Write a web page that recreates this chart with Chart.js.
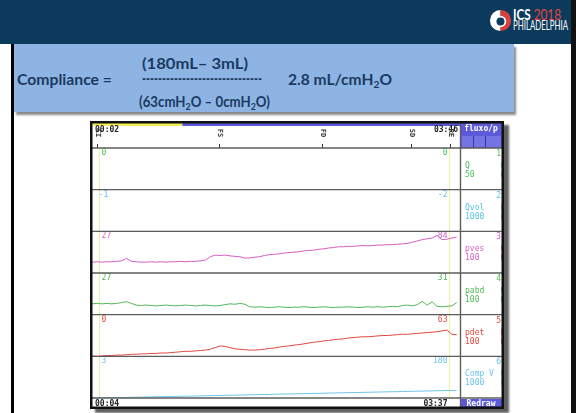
<!DOCTYPE html>
<html>
<head>
<meta charset="utf-8">
<script src="https://cdn.jsdelivr.net/npm/chart.js@4/dist/chart.umd.min.js"></script>
<style>
  html, body { margin: 0; padding: 0; background: #ffffff; }
  body { width: 576px; height: 413px; position: relative; overflow: hidden; font-family: Lato, "Open Sans", sans-serif; }
  #header { position: absolute; left: 0; top: 0; width: 576px; height: 44px; background: #0c3a5d; }
  #leftRule { position: absolute; left: 11px; top: 44px; width: 3px; height: 369px; background: #000; }
  #rightRule { position: absolute; left: 571px; top: 0; width: 5px; height: 413px; background: #111; }
  #formulaBox { position: absolute; left: 14px; top: 44px; width: 500px; height: 68px; background: #8db4e2;
    box-shadow: 2px 3px 2px rgba(40,40,40,0.55); }
  .ftxt { position: absolute; font-weight: 700; font-size: 15px; color: #1b3a63; white-space: nowrap; line-height: 18px; }
  .ftxt sub { font-size: 10px; vertical-align: -3px; line-height: 0; }
  .dash { font-size: 17px; letter-spacing: 0px; }
  .fit { transform-origin: 0 50%; display: inline-block; }
  #logoText1 { position: absolute; left: 513px; top: 7px; font: 700 15px Lato, sans-serif; color: #fff; line-height: 15px; }
  #logoText1 span.yr { color: #e4463d; font-weight: 400; }
  #logoText2 { position: absolute; left: 513px; top: 20px; font: 400 12.5px Lato, sans-serif; color: #fff; line-height: 12px; }
  #logoIcon { position: absolute; left: 489px; top: 9px; }
  #screenWrap { position: absolute; left: 90px; top: 121px; width: 414px; height: 288px; box-shadow: 5px 4px 2px rgba(30,30,30,0.7); }
</style>
</head>
<body>
<div id="header"></div>
<div id="leftRule"></div>
<div id="rightRule"></div>
<svg id="logoIcon" width="23" height="23" viewBox="0 0 24 24">
  <path d="M12 1 A11 11 0 0 0 12 23 Z" fill="#ffffff"/>
  <path d="M12 1 A11 11 0 0 1 12 23 Z" fill="#d9403a"/>
  <circle cx="12" cy="13" r="6" fill="#ffffff"/>
  <circle cx="12" cy="13" r="4.2" fill="#0c3a5d"/>
</svg>
<div id="logoText1"><span class="fit" data-w="48">ICS <span class="yr">2018</span></span></div>
<div id="logoText2"><span class="fit" data-w="55">PHILADELPHIA</span></div>

<div id="formulaBox"></div>
<div class="ftxt" style="left:17px; top:70px;"><span class="fit" data-w="95">Compliance =</span></div>
<div class="ftxt" style="left:142px; top:54px;"><span class="fit" data-w="106">(180mL– 3mL)</span></div>
<div class="ftxt dash" style="left:142px; top:69px;"><span class="fit" data-w="120">------------------------------</span></div>
<div class="ftxt" style="left:139px; top:92px;"><span class="fit" data-w="131">(63cmH<sub>2</sub>O – 0cmH<sub>2</sub>O)</span></div>
<div class="ftxt" style="left:288px; top:70px;"><span class="fit" data-w="104">2.8 mL/cmH<sub>2</sub>O</span></div>

<div id="screenWrap"><canvas id="trace" width="414" height="288"></canvas></div>

<script>
// squeeze each caption to its slot width
document.querySelectorAll('.fit').forEach(el => {
  const w = el.getBoundingClientRect().width;
  const target = Number(el.dataset.w);
  if (w > 0) el.style.transform = 'scaleX(' + (target / w).toFixed(3) + ')';
});

// Time base of the filling trace, seconds
const times = [0,3,6,9,12,15,18,21,24,27,30,33,36,39,42,45,48,51,54,57,60,63,66,69,72,75,78,81,84,87,90,93,96,99,
  102,105,108,111,114,117,120,123,126,129,132,135,138,141,144,147,150,153,156,159,162,165,168,171,174,177,180,
  183,186,189,192,195,198,201,204,207,210,213,216,219,222];

// Flow (ml/s)
const qFlow = [0,0,0,0,0,0,0,0,0,0,0,0,0,0,0,0,0,0,0,0,0,0,0,0,0,0,0,0,0,0,0,0,0,0,0,0,0,0,0,0,0,0,0,0,0,
  0,0,0,0,0,0,0,0,0,0,0,0,0,0,0,0,0,0,0,0,0,0,0,0,0,0,0,0,0,0];
// Voided volume (ml)
const qVol = [-1,-1,-1,-1,-1,-1,-1,-1,-1,-1,-1,-1,-1,-1,-1,-1,-1,-1,-1,-1,-1,-1,-1,-1,-1,-1,-1,-1,-1,-1,-1,-1,
  -1,-1,-1,-1,-1,-1,-2,-2,-2,-2,-2,-2,-2,-2,-2,-2,-2,-2,-2,-2,-2,-2,-2,-2,-2,-2,-2,-2,-2,-2,-2,-2,-2,-2,-2,-2,
  -2,-2,-2,-2,-2,-2,-2];
// Vesical pressure (cmH2O)
const pves = [26,27,26,27,27,28,29,35,28,27,26,26,27,26,27,26,27,27,28,27,28,28,29,31,39,43,42,43,41,40,39,36,
  36,38,39,42,44,45,46,48,49,50,51,53,54,55,57,58,60,61,63,63,64,64,65,66,65,66,67,67,68,68,69,70,71,74,77,80,
  82,84,90,80,81,84,86];
// Abdominal pressure (cmH2O)
const pabd = [26,27,26,27,26,27,29,31,27,23,22,23,22,21,22,23,22,21,22,23,22,21,22,23,22,21,22,24,26,25,27,25,
  19,18,19,18,17,18,19,18,17,18,18,19,18,17,18,19,18,17,18,18,19,18,17,18,19,18,19,18,19,20,19,22,23,21,24,32,
  23,31,20,19,20,21,29];
// Detrusor pressure (cmH2O)
const pdet = [1,0,1,2,2,3,3,4,5,5,6,6,7,7,8,8,9,10,11,12,12,13,14,15,17,21,25,24,21,18,17,16,15,15,16,17,19,20,
  22,24,25,27,28,30,32,34,35,37,38,40,41,42,44,45,46,47,47,48,49,50,50,51,52,53,53,54,55,56,57,58,59,61,63,53,52];
// Infused volume (ml)
const compV = [3,4,5,6,8,10,12,14,16,19,21,24,26,29,31,34,36,39,41,44,46,49,51,54,56,59,61,64,66,69,72,74,77,79,
  82,84,87,89,92,95,97,100,102,105,107,110,112,115,118,120,123,125,128,130,133,135,138,141,143,146,148,151,153,
  156,158,161,164,166,169,171,174,176,179,181,182];

// Channel descriptions
const channelNames = ['Q', 'Qvol', 'pves', 'pabd', 'pdet', 'Comp V'];
const channelRanges = ['50', '1000', '100', '100', '100', '1000'];
const channelMax = [50, 1000, 100, 100, 100, 1000];
const channelColors = ['#4fbf5a', '#58c3e6', '#d45ec4', '#52b85a', '#e2483f', '#6cc4ea'];
const startValues = ['0', '-1', '27', '27', '0', '3'];
const cursorValues = ['0', '-2', '84', '31', '63', '180'];
const seriesList = [qFlow, qVol, pves, pabd, pdet, compV];

// Cursors and event marks (seconds)
const cursorTimes = [4, 217];
const eventTimes = [3, 77, 140, 194, 218];
const eventCodes = ['CI', 'FS', 'FD', 'SD', 'RE'];
const clockLabels = { topLeft: '00:02', topRight: '03:46', bottomLeft: '00:04', bottomRight: '03:37' };

const axisIds = channelNames.map((_, i) => 'ch' + i);

const scales = {
  x: { type: 'linear', min: 0, max: 224, display: false }
};
axisIds.forEach((id, i) => {
  scales[id] = {
    type: 'linear', position: 'right', stack: 'channels', stackWeight: 1,
    min: 0, max: channelMax[i],
    ticks: { display: false }, grid: { display: false }, border: { display: false },
    afterFit: (s) => { s.width = 0; }
  };
});

const datasets = seriesList.map((vals, i) => ({
  label: channelNames[i],
  data: times.map((t, k) => ({ x: t, y: vals[k] })),
  yAxisID: axisIds[i],
  borderColor: channelColors[i],
  borderWidth: 1,
  pointRadius: 0,
  tension: 0,
  fill: false
}));

const MONO = '700 8px "DejaVu Sans Mono", "Liberation Mono", monospace';
const PURPLE = '#5c5ad8';
const RULE = '#5d5d5d';

const screenPlugin = {
  id: 'screen',
  beforeDraw(chart) {
    const ctx = chart.ctx;
    ctx.save();
    ctx.fillStyle = '#ffffff';
    ctx.fillRect(0, 0, chart.width, chart.height);
    ctx.restore();
  },
  beforeDatasetsDraw(chart) {
    const ctx = chart.ctx, x = chart.scales.x, a = chart.chartArea;
    ctx.save();
    ctx.strokeStyle = '#f1ef9c';
    ctx.lineWidth = 1;
    cursorTimes.forEach(t => {
      const px = Math.round(x.getPixelForValue(t)) + 0.5;
      ctx.beginPath(); ctx.moveTo(px, a.top); ctx.lineTo(px, a.bottom); ctx.stroke();
    });
    ctx.restore();
  },
  afterDatasetsDraw(chart) {
    const ctx = chart.ctx, x = chart.scales.x, a = chart.chartArea;
    const W = chart.width, H = chart.height;
    const panelRight = W - 2;
    ctx.save();
    ctx.font = MONO;
    ctx.textBaseline = 'middle';

    // top status strip
    ctx.fillStyle = '#f3ee5a';
    ctx.fillRect(3, 2, x.getPixelForValue(55) - 3, 3);
    ctx.fillStyle = PURPLE;
    ctx.fillRect(x.getPixelForValue(55), 2, a.right - x.getPixelForValue(55), 3);
    ctx.fillStyle = '#222';
    ctx.textAlign = 'left';
    ctx.fillText(clockLabels.topLeft, 5, 9);
    ctx.textAlign = 'right';
    ctx.fillText(clockLabels.topRight, a.right - 2, 9);

    // event marks with vertical codes
    eventTimes.forEach((t, i) => {
      const px = Math.round(x.getPixelForValue(t)) + 0.5;
      ctx.strokeStyle = '#333';
      ctx.lineWidth = 1;
      ctx.beginPath(); ctx.moveTo(px, a.top - 4); ctx.lineTo(px, a.top); ctx.stroke();
      ctx.save();
      ctx.translate(px, a.top - 15);
      ctx.rotate(Math.PI / 2);
      ctx.fillStyle = '#333';
      ctx.font = '700 7px "DejaVu Sans Mono", monospace';
      ctx.textAlign = 'center';
      ctx.fillText(eventCodes[i], 0, 0);
      ctx.restore();
    });

    // right header block
    ctx.fillStyle = PURPLE;
    ctx.fillRect(a.right + 1, 2, panelRight - a.right - 1, a.top - 2);
    ctx.fillStyle = '#7474e4';
    ctx.fillRect(a.right + 2, 15, panelRight - a.right - 3, a.top - 16);
    ctx.strokeStyle = '#3a3a9a';
    [a.right + 13, a.right + 25].forEach(px => {
      ctx.beginPath(); ctx.moveTo(px + 0.5, 15); ctx.lineTo(px + 0.5, a.top); ctx.stroke();
    });
    ctx.fillStyle = '#ffffff';
    ctx.textAlign = 'center';
    ctx.fillText('fluxo/p', (a.right + panelRight) / 2, 8);

    // channel rules, values and legend cells
    axisIds.forEach((id, i) => {
      const s = chart.scales[id];
      const col = channelColors[i];
      ctx.fillStyle = col;
      ctx.font = '400 8px "DejaVu Sans Mono", monospace';
      ctx.textAlign = 'left';
      ctx.fillText(startValues[i], x.getPixelForValue(cursorTimes[0]) + (startValues[i].startsWith('-') ? 0 : 3), s.top + 5);
      ctx.textAlign = 'right';
      ctx.fillText(cursorValues[i], x.getPixelForValue(cursorTimes[1]) - 1, s.top + 5);
      ctx.textAlign = 'left';
      ctx.fillText(channelNames[i], a.right + 5, s.top + 18);
      ctx.fillText(channelRanges[i], a.right + 5, s.top + 27);
      ctx.textAlign = 'right';
      ctx.fillText(String(i + 1), panelRight - 1, s.top + 6);
      ctx.fillText('(', panelRight + 2, s.top + 18);
      ctx.fillText('(', panelRight + 2, s.top + 27);
    });

    ctx.strokeStyle = RULE;
    ctx.lineWidth = 1.4;
    const rules = [a.top].concat(axisIds.map(id => chart.scales[id].bottom));
    rules.forEach(py => {
      ctx.beginPath(); ctx.moveTo(2, py); ctx.lineTo(panelRight, py); ctx.stroke();
    });
    ctx.beginPath(); ctx.moveTo(a.right + 0.5, 2); ctx.lineTo(a.right + 0.5, H - 2); ctx.stroke();

    // bottom status strip
    ctx.fillStyle = '#222';
    ctx.font = MONO;
    ctx.textAlign = 'left';
    ctx.fillText(clockLabels.bottomLeft, 5, a.bottom + 6);
    ctx.textAlign = 'right';
    ctx.fillText(clockLabels.bottomRight, x.getPixelForValue(cursorTimes[1]) - 1, a.bottom + 6);
    ctx.fillStyle = PURPLE;
    ctx.fillRect(a.right + 1, a.bottom + 1, panelRight - a.right - 1, H - a.bottom - 3);
    ctx.fillStyle = '#ffffff';
    ctx.textAlign = 'center';
    ctx.fillText('Redraw', (a.right + panelRight) / 2, a.bottom + 6);

    // outer frame
    ctx.strokeStyle = '#111';
    ctx.lineWidth = 2.5;
    ctx.strokeRect(1.25, 1.25, W - 2.5, H - 2.5);
    ctx.restore();
  }
};

new Chart(document.getElementById('trace'), {
  type: 'line',
  data: { datasets },
  options: {
    responsive: false,
    animation: false,
    events: [],
    layout: { padding: { left: 2, top: 27, right: 44, bottom: 11 } },
    plugins: { legend: { display: false }, tooltip: { enabled: false } },
    scales
  },
  plugins: [screenPlugin]
});
</script>
</body>
</html>
